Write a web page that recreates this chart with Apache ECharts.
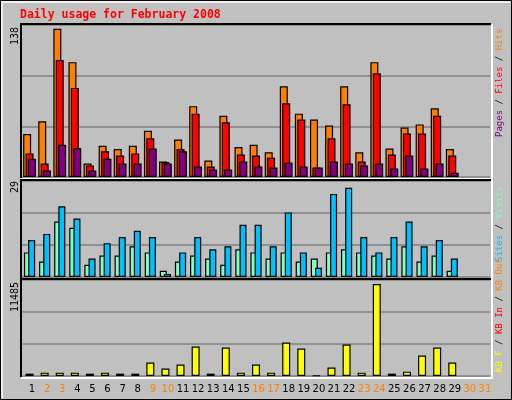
<!DOCTYPE html>
<html><head><meta charset="utf-8">
<script src="https://cdn.jsdelivr.net/npm/echarts@6/dist/echarts.min.js"></script>
<style>html,body{margin:0;padding:0;background:#C0C0C0}#c{width:512px;height:400px}</style>
</head><body><div id="c"></div>
<script>
const days = ['1','2','3','4','5','6','7','8','9','10','11','12','13','14','15','16','17','18','19','20','21','22','23','24','25','26','27','28','29','30','31'];
const weekend = [2,3,9,10,16,17,23,24,30,31];
const hits  = [40,52,138,107,12.5,29,26,29,43,14.4,35,66,15.3,57,28,30,23,84.5,59,53.6,48,84.5,23,107,26.5,46,49,64,26];
const files = [22,12.5,109,83,10.7,24,20,22,36,14,26,59,9.7,51,21,20,18,68.6,53.6,8.8,36,67.7,14.4,96.6,21,40.5,40.5,57,20];
const pages = [17,6,30,27,6,17,12.5,12.5,26.5,12.5,24,9.7,7,7,14.4,9.7,8.8,13.5,9.7,8.8,14.4,12.5,10.7,12.5,7.9,20,7.9,12.5,4];
const visits = [8,5,18,16,4,7,7,10,8,2,5,7,6,4,9,8,6,8,5,6,8,9,8,7,6,10,5,7,2];
const sites  = [12,14,23,19,6,11,13,15,13,1,8,13,9,10,17,17,10,21,8,3,27,29,13,8,13,18,10,12,6];
const kbytes = [293,419,419,419,293,419,293,293,1676,922,1425,3687,293,3562,419,1425,419,4190,3436,60,1048,3939,419,11485,293,545,2556,3562,1676];
const maxLabels = ['138','29','11485'];

const chart = echarts.init(document.getElementById('c'));
const L = 22, W = 468;
const grids = [
  {left:L, top:25, width:W, height:152},
  {left:L, top:181, width:W, height:96},
  {left:L, top:280, width:W, height:96}
];
const bs = {borderColor:'#000', borderWidth:1.2};
function xAx(i, show){
  return {type:'category', gridIndex:i, data:days, boundaryGap:true,
    axisLine:{show:false}, axisTick:{show:false},
    axisLabel:{show:show, interval:0, margin:8, padding:[0,0,0,5], fontFamily:'DejaVu Sans', fontSize:10,
      formatter:(v)=> weekend.includes(+v) ? '{w|'+v+'}' : '{n|'+v+'}',
      rich:{w:{color:'#FF8000',fontFamily:'DejaVu Sans',fontSize:10},n:{color:'#000',fontFamily:'DejaVu Sans',fontSize:10}}}};
}
function yAx(i, max, interval){
  return {type:'value', gridIndex:i, min:0, max:max, interval:interval,
    axisLine:{show:false}, axisTick:{show:false}, axisLabel:{show:false},
    splitLine:{lineStyle:{color:'#808080', width:1.5}}};
}
function frame(g){
  return [
    {type:'polyline', shape:{points:[[g.left-1,g.top+g.height+1],[g.left-1,g.top-1],[g.left+g.width+1,g.top-1]]}, style:{stroke:'#000',lineWidth:2,fill:null}, z:10},
    {type:'polyline', shape:{points:[[g.left-1,g.top+g.height+2],[g.left+g.width+2,g.top+g.height+2],[g.left+g.width+2,g.top-1]]}, style:{stroke:'#fff',lineWidth:2,fill:null}, z:10}
  ];
}
const mono = 'DejaVu Sans Mono';
function vtext(x, y, parts){
  const rich = {};
  let str = '';
  parts.forEach((p,k)=>{ rich['p'+k] = {fill:p[1], fontFamily:mono, fontSize:9}; str += '{p'+k+'|'+p[0]+'}'; });
  return {type:'text', x:x, y:y, rotation:Math.PI/2, style:{text:str, rich:rich, align:'left', verticalAlign:'middle', fontFamily:mono, fontSize:9}, z:20};
}
const graphic = [
  {type:'rect', shape:{x:0.5,y:0.5,width:511,height:399}, style:{fill:null, stroke:'#000', lineWidth:1}, z:30},
  {type:'polyline', shape:{points:[[2,398],[2,2],[510,2]]}, style:{stroke:'#fff', lineWidth:1.5, fill:null}, z:30},
  {type:'text', x:20, y:15, style:{text:'Daily usage for February 2008', fill:'#FF0000', fontFamily:mono, fontWeight:'bold', fontSize:11.5, verticalAlign:'middle'}},
  {type:'text', x:15, y:27, rotation:Math.PI/2, style:{text:maxLabels[0], fill:'#000', fontFamily:mono, fontSize:10, align:'right', verticalAlign:'middle'}},
  {type:'text', x:15, y:181, rotation:Math.PI/2, style:{text:maxLabels[1], fill:'#000', fontFamily:mono, fontSize:10, align:'right', verticalAlign:'middle'}},
  {type:'text', x:15, y:282, rotation:Math.PI/2, style:{text:maxLabels[2], fill:'#000', fontFamily:mono, fontSize:10, align:'right', verticalAlign:'middle'}},
  vtext(500, 137, [['Pages','#800080'],[' / ','#000'],['Files','#FF0000'],[' / ','#000'],['Hits','#FF8000']]),
  vtext(500, 262, [['Sites','#00C0FF'],[' / ','#000'],['Visits','#80FFC0']]),
  vtext(500, 372, [['KB F','#FFFF00'],[' / ','#000'],['KB In','#FF0000'],[' / ','#000'],['KB Out','#FF8000']])
].concat(frame(grids[0]), frame(grids[1]), frame(grids[2]));

chart.setOption({
  animation:false,
  backgroundColor:'#C0C0C0',
  grid:grids,
  xAxis:[xAx(0,false), xAx(1,false), xAx(2,true)],
  yAxis:[yAx(0,141.6,47.2), yAx(1,31.2,10.4), yAx(2,11990,3996.7)],
  graphic:graphic,
  series:[
    {type:'bar', name:'Hits', xAxisIndex:0, yAxisIndex:0, data:hits, barWidth:8, barGap:'-70%', itemStyle:Object.assign({color:'#FF8000'},bs)},
    {type:'bar', name:'Files', xAxisIndex:0, yAxisIndex:0, data:files, barWidth:8, barGap:'-70%', itemStyle:Object.assign({color:'#FF0000'},bs)},
    {type:'bar', name:'Pages', xAxisIndex:0, yAxisIndex:0, data:pages, barWidth:8, barGap:'-70%', itemStyle:Object.assign({color:'#800080'},bs)},
    {type:'bar', name:'Visits', xAxisIndex:1, yAxisIndex:1, data:visits, barWidth:7, barGap:'-40%', itemStyle:Object.assign({color:'#80FFC0'},bs)},
    {type:'bar', name:'Sites', xAxisIndex:1, yAxisIndex:1, data:sites, barWidth:7, barGap:'-40%', itemStyle:Object.assign({color:'#00C0FF'},bs)},
    {type:'bar', name:'KB F', xAxisIndex:2, yAxisIndex:2, data:kbytes, barWidth:8, itemStyle:Object.assign({color:'#FFFF00'},bs)}
  ]
});
</script></body></html>
